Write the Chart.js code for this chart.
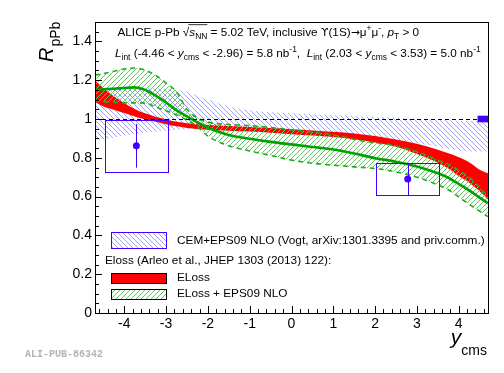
<!DOCTYPE html>
<html>
<head>
<meta charset="utf-8">
<script src="https://cdn.jsdelivr.net/npm/chart.js@4.4.1/dist/chart.umd.min.js"></script>
<style>
  html, body { margin: 0; padding: 0; background: #fff; }
</style>
</head>
<body>
<canvas id="c" width="504" height="373"></canvas>
<script>
// axis ticks
const xTicks = [-4, -3, -2, -1, 0, 1, 2, 3, 4]
const yTicks = [0, 0.2, 0.4, 0.6, 0.8, 1, 1.2, 1.4]

// model bands, sampled along y_cms
const bandX    = [-4.7, -4.5, -4.25, -4.0, -3.75, -3.5, -3.25, -3.0, -2.75, -2.5, -2.25, -2.0, -1.5, -1.0, -0.5, 0, 0.5, 1.0, 1.5, 2.0, 2.5, 3.0, 3.5, 3.75, 4.0, 4.25, 4.5, 4.7]
const vogtHi   = [1.150, 1.155, 1.160, 1.160, 1.160, 1.160, 1.158, 1.155, 1.150, 1.140, 1.120, 1.100, 1.065, 1.045, 1.035, 1.030, 1.025, 1.020, 1.015, 1.010, 1.005, 1.000, 0.995, 0.993, 0.990, 0.990, 0.988, 0.988]
const vogtLo   = [0.885, 0.895, 0.905, 0.915, 0.923, 0.930, 0.936, 0.940, 0.944, 0.947, 0.950, 0.952, 0.953, 0.950, 0.945, 0.940, 0.935, 0.930, 0.922, 0.908, 0.892, 0.875, 0.856, 0.845, 0.838, 0.834, 0.833, 0.833]
const elossHi  = [1.200, 1.160, 1.117, 1.083, 1.052, 1.029, 1.011, 0.998, 0.986, 0.978, 0.973, 0.969, 0.964, 0.959, 0.953, 0.947, 0.941, 0.934, 0.925, 0.912, 0.894, 0.872, 0.842, 0.823, 0.803, 0.777, 0.738, 0.720]
const elossLo  = [1.088, 1.065, 1.048, 1.031, 1.013, 0.998, 0.986, 0.973, 0.962, 0.954, 0.949, 0.945, 0.940, 0.935, 0.929, 0.922, 0.915, 0.907, 0.895, 0.879, 0.857, 0.820, 0.775, 0.745, 0.706, 0.672, 0.628, 0.585]
const epsHi    = [1.226, 1.234, 1.246, 1.258, 1.263, 1.252, 1.225, 1.185, 1.140, 1.050, 1.005, 0.984, 0.972, 0.966, 0.956, 0.944, 0.933, 0.918, 0.895, 0.877, 0.862, 0.832, 0.788, 0.767, 0.735, 0.700, 0.648, 0.600]
const epsMid   = [1.151, 1.153, 1.156, 1.160, 1.163, 1.150, 1.120, 1.085, 1.045, 1.013, 0.983, 0.955, 0.918, 0.898, 0.882, 0.869, 0.856, 0.843, 0.822, 0.798, 0.780, 0.755, 0.720, 0.697, 0.665, 0.632, 0.595, 0.566]
const epsLo    = [1.095, 1.090, 1.087, 1.083, 1.083, 1.082, 1.062, 1.042, 1.022, 0.995, 0.960, 0.912, 0.862, 0.835, 0.812, 0.788, 0.772, 0.762, 0.753, 0.745, 0.727, 0.700, 0.660, 0.635, 0.598, 0.560, 0.525, 0.497]

// ALICE data
const dataX   = [-3.71, 2.78]
const dataY   = [0.862, 0.691]
const statErr = [0.113, 0.083]
const systErr = [0.134, 0.083]
const systXLo = [-4.46, 2.03]
const systXHi = [-2.96, 3.53]
const globalUnc = 0.017
const globalX = [4.45, 4.7]

const FONT = '"Liberation Sans", Arial, sans-serif'
const SYMFONT = '"DejaVu Sans", sans-serif'
const BLUE = '#4400ff'
const GREEN = '#00a000'

const canvas = document.getElementById('c')
const ctx0 = canvas.getContext('2d')

function hatch(color, step, up) {
    const c = document.createElement('canvas')
    c.width = step; c.height = step
    const g = c.getContext('2d')
    g.strokeStyle = color
    g.lineWidth = 1
    g.beginPath()
    if (up) {
        g.moveTo(-1, step + 1); g.lineTo(step + 1, -1)
        g.moveTo(-1, 1); g.lineTo(1, -1)
        g.moveTo(step - 1, step + 1); g.lineTo(step + 1, step - 1)
    } else {
        g.moveTo(-1, -1); g.lineTo(step + 1, step + 1)
        g.moveTo(step - 1, -1); g.lineTo(step + 1, 1)
        g.moveTo(-1, step - 1); g.lineTo(1, step + 1)
    }
    g.stroke()
    return ctx0.createPattern(c, 'repeat')
}

const blueHatch = hatch('#a0a0ff', 5, false)
const greenHatch = hatch('#5ccc5c', 5, true)

const pts = ys => bandX.map((x, i) => ({ x, y: ys[i] }))

// draws a run of text pieces: '' normal, 'i' italic, 'sub', 'sup', 'g' symbol font
function rich(ctx, x, y, size, parts) {
    for (const [t, kind] of parts) {
        const small = kind === 'sub' || kind === 'sup'
        const s = small ? size * 0.72 : kind === 'g' ? size * 0.92 : size
        ctx.font = (kind === 'i' ? 'italic ' : '') + s + 'px ' + (kind === 'g' ? SYMFONT : FONT)
        const dy = kind === 'sub' ? size * 0.32 : kind === 'sup' ? -size * 0.42 : 0
        ctx.fillText(t, x, y + dy)
        x += ctx.measureText(t).width
    }
    return x
}

const decor = {
    id: 'decor',
    beforeDatasetDraw(chart, args) {
        if (args.index !== 7) return
        const { ctx, scales: { x, y } } = chart
        ctx.save()
        ctx.strokeStyle = BLUE
        ctx.lineWidth = 1
        dataX.forEach((v, i) => {
            const x0 = x.getPixelForValue(systXLo[i]), x1 = x.getPixelForValue(systXHi[i])
            const y0 = y.getPixelForValue(dataY[i] + systErr[i]), y1 = y.getPixelForValue(dataY[i] - systErr[i])
            ctx.strokeRect(Math.round(x0) + 0.5, Math.round(y0) + 0.5, Math.round(x1 - x0), Math.round(y1 - y0))
            const px = Math.round(x.getPixelForValue(v)) + 0.5
            ctx.beginPath()
            ctx.moveTo(px, y.getPixelForValue(dataY[i] + statErr[i]))
            ctx.lineTo(px, y.getPixelForValue(dataY[i] - statErr[i]))
            ctx.stroke()
        })
        ctx.restore()
    },
    afterDatasetsDraw(chart) {
        const { ctx, chartArea: a, scales: { x, y } } = chart
        ctx.save()
        const py = Math.round(y.getPixelForValue(1)) + 0.5
        ctx.strokeStyle = '#000'
        ctx.lineWidth = 1
        ctx.setLineDash([4, 3])
        ctx.beginPath(); ctx.moveTo(a.left, py); ctx.lineTo(a.right, py); ctx.stroke()
        ctx.setLineDash([])
        // global uncertainty
        ctx.fillStyle = BLUE
        const gx0 = x.getPixelForValue(globalX[0]), gx1 = x.getPixelForValue(globalX[1])
        const gy0 = y.getPixelForValue(1 + globalUnc), gy1 = y.getPixelForValue(1 - globalUnc)
        ctx.fillRect(gx0, gy0, gx1 - gx0, gy1 - gy0)
        ctx.restore()
    },
    afterDraw(chart) {
        const { ctx, chartArea: a, scales: { x, y } } = chart
        ctx.save()
        // frame
        ctx.strokeStyle = '#000'
        ctx.lineWidth = 1
        ctx.strokeRect(Math.round(a.left) + 0.5, Math.round(a.top) + 0.5, Math.round(a.right - a.left), Math.round(a.bottom - a.top))
        // ticks
        ctx.beginPath()
        for (let k = 0; k <= 30; k++) {
            const py = Math.round(y.getPixelForValue(k * 0.05)) + 0.5
            const len = k % 4 === 0 ? 7 : 4
            ctx.moveTo(a.left, py); ctx.lineTo(a.left + len, py)
        }
        for (let k = -23; k <= 23; k++) {
            const px = Math.round(x.getPixelForValue(k * 0.2)) + 0.5
            const len = k % 5 === 0 ? 7 : 4
            ctx.moveTo(px, a.bottom); ctx.lineTo(px, a.bottom - len)
        }
        ctx.stroke()

        ctx.fillStyle = '#000'
        ctx.textBaseline = 'alphabetic'
        ctx.textAlign = 'left'
        // header
        const hs = 11.75
        let px = rich(ctx, 117.5, 35.5, hs, [['ALICE p-Pb ', ''], ['\u221A', '']])
        const sx = px
        px = rich(ctx, px, 35.5, hs, [['s', 'i'], ['NN', 'sub']])
        ctx.fillRect(sx - 1, 35.5 - hs * 0.95, px - sx + 1, 0.8)
        rich(ctx, px, 35.5, hs, [[' = 5.02 TeV, inclusive ', ''], ['\u03D2', 'g'], ['(1S)', ''], ['\u2192', 'g'], ['\u03BC', ''], ['+', 'sup'], ['\u03BC', ''], ['-', 'sup'], [', ', ''], ['p', 'i'], ['T', 'sub'], [' > 0', '']])
        rich(ctx, 115, 56.5, hs, [['L', 'i'], ['int', 'sub'], [' (-4.46 < ', ''], ['y', 'i'], ['cms', 'sub'], [' < -2.96) = 5.8 nb', ''], ['-1', 'sup'], [',  ', ''],
            ['L', 'i'], ['int', 'sub'], [' (2.03 < ', ''], ['y', 'i'], ['cms', 'sub'], [' < 3.53) = 5.0 nb', ''], ['-1', 'sup']])

        // axis titles
        ctx.save()
        ctx.translate(53, 62)
        ctx.rotate(-Math.PI / 2)
        ctx.font = 'italic 20px ' + FONT
        ctx.fillText('R', 0, 0)
        const rw = ctx.measureText('R').width
        ctx.font = '14px ' + FONT
        ctx.fillText('pPb', rw + 1, 7)
        ctx.restore()

        ctx.font = '14px ' + FONT
        const cw = ctx.measureText('cms').width
        ctx.font = 'italic 21px ' + FONT
        const yw = ctx.measureText('y').width
        ctx.fillText('y', 487 - cw - yw, 344)
        ctx.font = '14px ' + FONT
        ctx.fillText('cms', 487 - cw, 355)

        // legend
        ctx.fillStyle = blueHatch
        ctx.fillRect(111, 232, 55, 16)
        ctx.strokeStyle = BLUE
        ctx.strokeRect(111.5, 232.5, 55, 16)
        ctx.fillStyle = '#ff0000'
        ctx.fillRect(111, 273, 55, 10)
        ctx.strokeStyle = '#000'
        ctx.strokeRect(111.5, 273.5, 55, 10)
        ctx.fillStyle = greenHatch
        ctx.fillRect(111, 289, 55, 10)
        ctx.strokeRect(111.5, 289.5, 55, 10)

        ctx.fillStyle = '#000'
        ctx.textBaseline = 'middle'
        ctx.font = '11.8px ' + FONT
        ctx.fillText('CEM+EPS09 NLO (Vogt, arXiv:1301.3395 and priv.comm.)', 177, 241)
        ctx.fillText('Eloss (Arleo et al., JHEP 1303 (2013) 122):', 105, 261)
        ctx.fillText('ELoss', 177, 277.5)
        ctx.fillText('ELoss + EPS09 NLO', 177, 294)

        ctx.textBaseline = 'alphabetic'
        ctx.fillStyle = '#b4b4b4'
        ctx.font = 'bold 10px "Liberation Mono", monospace'
        ctx.fillText('ALI-PUB-86342', 25, 357)
        ctx.restore()
    }
}

const line = {
    pointRadius: 0,
    cubicInterpolationMode: 'monotone',
    borderWidth: 0,
    fill: false
}

new Chart(canvas, {
    type: 'line',
    data: {
        datasets: [
            { ...line, label: 'CEM+EPS09 NLO', data: pts(vogtHi), fill: '+1', backgroundColor: blueHatch, borderColor: 'rgba(0,0,0,0)', order: 60 },
            { ...line, label: 'vogt lo', data: pts(vogtLo), borderColor: 'rgba(0,0,0,0)', order: 59 },
            { ...line, label: 'ELoss', data: pts(elossHi), fill: '+1', backgroundColor: '#ff0000', borderColor: 'rgba(0,0,0,0)', order: 50 },
            { ...line, label: 'eloss lo', data: pts(elossLo), borderColor: 'rgba(0,0,0,0)', order: 49 },
            { ...line, label: 'ELoss + EPS09 NLO', data: pts(epsHi), fill: '+1', backgroundColor: greenHatch, borderColor: '#22aa22', borderWidth: 1.6, borderDash: [5, 4], order: 40 },
            { ...line, label: 'eps lo', data: pts(epsLo), borderColor: '#22aa22', borderWidth: 1.6, borderDash: [5, 4], order: 39 },
            { ...line, label: 'eps central', data: pts(epsMid), borderColor: GREEN, borderWidth: 2.6, order: 30 },
            { label: 'ALICE', data: dataX.map((x, i) => ({ x, y: dataY[i] })), showLine: false, pointRadius: 3.5, pointBackgroundColor: BLUE, pointBorderWidth: 0, borderColor: BLUE, order: 10 }
        ]
    },
    options: {
        responsive: false,
        animation: false,
        events: [],
        layout: { padding: { left: 0, right: 16, top: 22, bottom: 0 } },
        plugins: { legend: { display: false }, tooltip: { enabled: false } },
        scales: {
            x: {
                type: 'linear', min: -4.7, max: 4.7,
                grid: { display: false, drawTicks: false },
                border: { display: false },
                afterBuildTicks: s => { s.ticks = xTicks.map(v => ({ value: v })) },
                afterFit: s => { s.height = 60 },
                ticks: { color: '#000', font: { family: FONT, size: 14 }, padding: 3, autoSkip: false, maxRotation: 0, callback: v => String(v) }
            },
            y: {
                type: 'linear', min: 0, max: 1.5,
                grid: { display: false, drawTicks: false },
                border: { display: false },
                afterBuildTicks: s => { s.ticks = yTicks.map(v => ({ value: v })) },
                afterFit: s => { s.width = 95 },
                ticks: { color: '#000', font: { family: FONT, size: 14 }, padding: 3, autoSkip: false, callback: v => String(v) }
            }
        }
    },
    plugins: [decor]
})
</script>
</body>
</html>
